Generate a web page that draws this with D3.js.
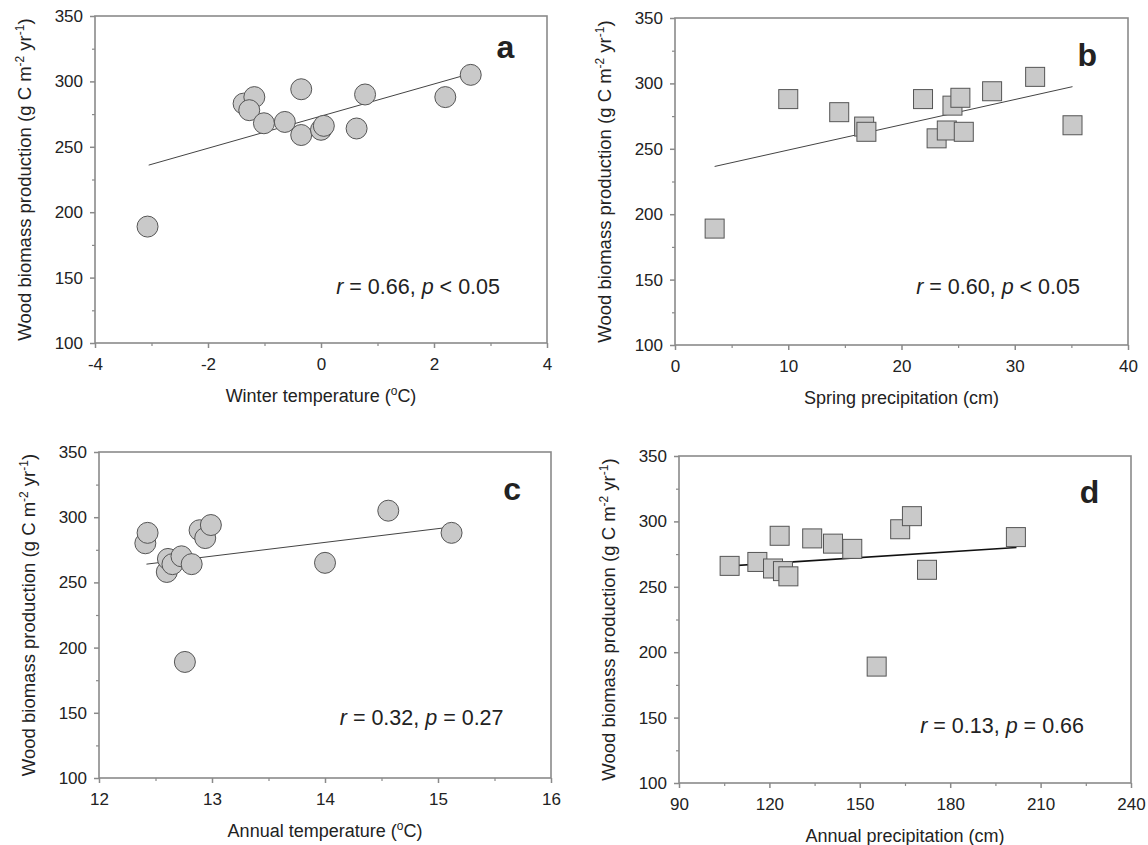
<!DOCTYPE html>
<html><head><meta charset="utf-8">
<script src="https://cdn.jsdelivr.net/npm/d3@7"></script>
<style>
body{margin:0;background:#fff}
svg{display:block}
text{font-family:"Liberation Sans",Arial,sans-serif;fill:#222}
</style>
</head><body>
<svg id="chart" width="1148" height="845"></svg>
<script>
// ---- data ----
const yTicks = [100, 150, 200, 250, 300, 350];

const winterTemp = [-3.07, -1.37, -1.18, -1.27, -1.01, -0.64, -0.35, -0.35, 0.0, 0.05, 0.63, 0.78, 2.2, 2.65];
const winterWBP  = [189, 283, 288, 278, 268, 269, 294, 259, 263, 266, 264, 290, 288, 305];
const winterTicks = [-4, -2, 0, 2, 4];
const winterFitX = [-3.05, 2.65], winterFitY = [236, 306];

const springPrecip = [3.5, 10.0, 14.5, 16.7, 16.9, 21.9, 23.1, 24.0, 24.5, 25.2, 25.5, 28.0, 31.8, 35.1];
const springWBP    = [189, 288, 278, 267, 263, 288, 258, 264, 283, 289, 263, 294, 305, 268];
const springTicks = [0, 10, 20, 30, 40];
const springFitX = [3.5, 35.1], springFitY = [236.5, 297.5];

const annualTemp = [12.41, 12.43, 12.60, 12.61, 12.65, 12.73, 12.76, 12.82, 12.89, 12.94, 12.99, 14.0, 14.56, 15.12];
const annualTempWBP = [280, 288, 258, 268, 264, 270, 189, 264, 290, 284, 294, 265, 305, 288];
const annualTempTicks = [12, 13, 14, 15, 16];
const annualTempFitX = [12.42, 15.12], annualTempFitY = [264, 292.5];

const annualPrecip = [106.8, 116, 121.2, 123.4, 124.5, 126.3, 134.2, 141.1, 147.5, 155.6, 163.4, 167.3, 172.3, 201.8];
const annualPrecipWBP = [266, 269, 264, 289, 262, 258, 287, 283, 279, 189, 294, 304, 263, 288];
const annualPrecipTicks = [90, 120, 150, 180, 210, 240];
const annualPrecipFitX = [107, 202], annualPrecipFitY = [266, 280];

const panels = [
  {letter:"a", x:winterTemp, y:winterWBP, xt:winterTicks, minor:1, fx:winterFitX, fy:winterFitY,
   title:["Winter temperature (", "o", "C)"], r:"0.66", pop:"<", p:"0.05", shape:"circle",
   box:[95,16,547,343], lw:1, lc:"#444", lpos:[0.908,0.129], apos:[0.896,0.851]},
  {letter:"b", x:springPrecip, y:springWBP, xt:springTicks, minor:5, fx:springFitX, fy:springFitY,
   title:["Spring precipitation (cm)"], r:"0.60", pop:"<", p:"0.05", shape:"square",
   box:[675,18,1128,345], lw:1, lc:"#444", lpos:[0.91,0.148], apos:[0.894,0.845]},
  {letter:"c", x:annualTemp, y:annualTempWBP, xt:annualTempTicks, minor:0.5, fx:annualTempFitX, fy:annualTempFitY,
   title:["Annual temperature (", "o", "C)"], r:"0.32", pop:"=", p:"0.27", shape:"circle",
   box:[99,452,551,778], lw:1, lc:"#444", lpos:[0.914,0.148], apos:[0.895,0.838]},
  {letter:"d", x:annualPrecip, y:annualPrecipWBP, xt:annualPrecipTicks, minor:15, fx:annualPrecipFitX, fy:annualPrecipFitY,
   title:["Annual precipitation (cm)"], r:"0.13", pop:"=", p:"0.66", shape:"square",
   box:[679,456,1131,783], lw:1.6, lc:"#111", lpos:[0.908,0.145], apos:[0.896,0.847]}
];

const svg = d3.select("#chart");
const axisColor = "#8a8a8a";

panels.forEach(P => {
  const [L,T,R,B] = P.box;
  const xs = d3.scaleLinear().domain([P.xt[0], P.xt[P.xt.length-1]]).range([L,R]);
  const ys = d3.scaleLinear().domain([100,350]).range([B,T]);
  const g = svg.append("g");

  // minor ticks
  const xMinor = d3.range(P.xt[0], P.xt[P.xt.length-1] + 1e-9, P.minor).filter(v => !P.xt.some(t => Math.abs(t-v) < 1e-6));
  const yMinor = d3.range(100, 351, 25).filter(v => v % 50 !== 0);
  g.append("g").attr("transform",`translate(0,${B})`)
    .call(d3.axisBottom(xs).tickValues(xMinor).tickSize(3).tickFormat(""))
    .call(a => { a.select(".domain").remove(); a.selectAll("line").attr("stroke",axisColor).attr("stroke-width",1.2); });
  g.append("g").attr("transform",`translate(${L},0)`)
    .call(d3.axisLeft(ys).tickValues(yMinor).tickSize(3).tickFormat(""))
    .call(a => { a.select(".domain").remove(); a.selectAll("line").attr("stroke",axisColor).attr("stroke-width",1.2); });

  // major axes
  const xa = g.append("g").attr("transform",`translate(0,${B})`)
    .call(d3.axisBottom(xs).tickValues(P.xt).tickSize(5).tickPadding(10).tickFormat(d3.format("d")));
  const ya = g.append("g").attr("transform",`translate(${L},0)`)
    .call(d3.axisLeft(ys).tickValues(yTicks).tickSize(5).tickPadding(7));
  [xa,ya].forEach(a => {
    a.select(".domain").remove();
    a.selectAll("line").attr("stroke",axisColor).attr("stroke-width",1.5);
    a.selectAll("text").attr("font-size",17).attr("fill","#222")
      .attr("font-family",'"Liberation Sans",Arial,sans-serif');
  });
  xa.selectAll("text").text(d => d < 0 ? "-" + Math.abs(d) : d);

  // frame
  g.append("rect").attr("x",L).attr("y",T).attr("width",R-L).attr("height",B-T)
    .attr("fill","none").attr("stroke",axisColor).attr("stroke-width",1.6);

  // fit line
  g.append("line").attr("x1",xs(P.fx[0])).attr("y1",ys(P.fy[0]))
    .attr("x2",xs(P.fx[1])).attr("y2",ys(P.fy[1]))
    .attr("stroke",P.lc).attr("stroke-width",P.lw);

  // markers
  const pts = P.x.map((v,i) => [v, P.y[i]]);
  if (P.shape === "circle") {
    g.selectAll("circle.pt").data(pts).enter().append("circle").attr("class","pt")
      .attr("cx",d=>xs(d[0])).attr("cy",d=>ys(d[1])).attr("r",10.5)
      .attr("fill","#c9c9c9").attr("stroke","#555").attr("stroke-width",1);
  } else {
    const s = 19;
    g.selectAll("rect.pt").data(pts).enter().append("rect").attr("class","pt")
      .attr("x",d=>xs(d[0])-s/2).attr("y",d=>ys(d[1])-s/2).attr("width",s).attr("height",s)
      .attr("fill","#c9c9c9").attr("stroke","#555").attr("stroke-width",1);
  }

  // panel letter
  g.append("text").attr("x",L+(R-L)*P.lpos[0]).attr("y",T+(B-T)*P.lpos[1])
    .attr("text-anchor","middle").attr("font-size",32).attr("font-weight","bold").attr("fill","#111")
    .text(P.letter);

  // annotation
  const an = g.append("text").attr("x",L+(R-L)*P.apos[0]).attr("y",T+(B-T)*P.apos[1])
    .attr("text-anchor","end").attr("font-size",21.5);
  an.append("tspan").attr("font-style","italic").text("r");
  an.append("tspan").text(` = ${P.r}, `);
  an.append("tspan").attr("font-style","italic").text("p");
  an.append("tspan").text(` ${P.pop} ${P.p}`);

  // x title
  const xt = g.append("text").attr("x",(L+R)/2).attr("y",B+59).attr("text-anchor","middle").attr("font-size",18);
  if (P.title.length === 3) {
    xt.append("tspan").text(P.title[0]);
    xt.append("tspan").attr("font-size",12).attr("dy",-7).text(P.title[1]);
    xt.append("tspan").attr("dy",7).text(P.title[2]);
  } else xt.text(P.title[0]);

  // y title
  const yt = g.append("text").attr("transform",`translate(${L-64},${(T+B)/2}) rotate(-90)`)
    .attr("text-anchor","middle").attr("font-size",18.5);
  yt.append("tspan").text("Wood biomass production (g C m");
  yt.append("tspan").attr("font-size",12).attr("dy",-7).text("-2");
  yt.append("tspan").attr("dy",7).text(" yr");
  yt.append("tspan").attr("font-size",12).attr("dy",-7).text("-1");
  yt.append("tspan").attr("dy",7).text(")");
});
</script>
</body></html>
